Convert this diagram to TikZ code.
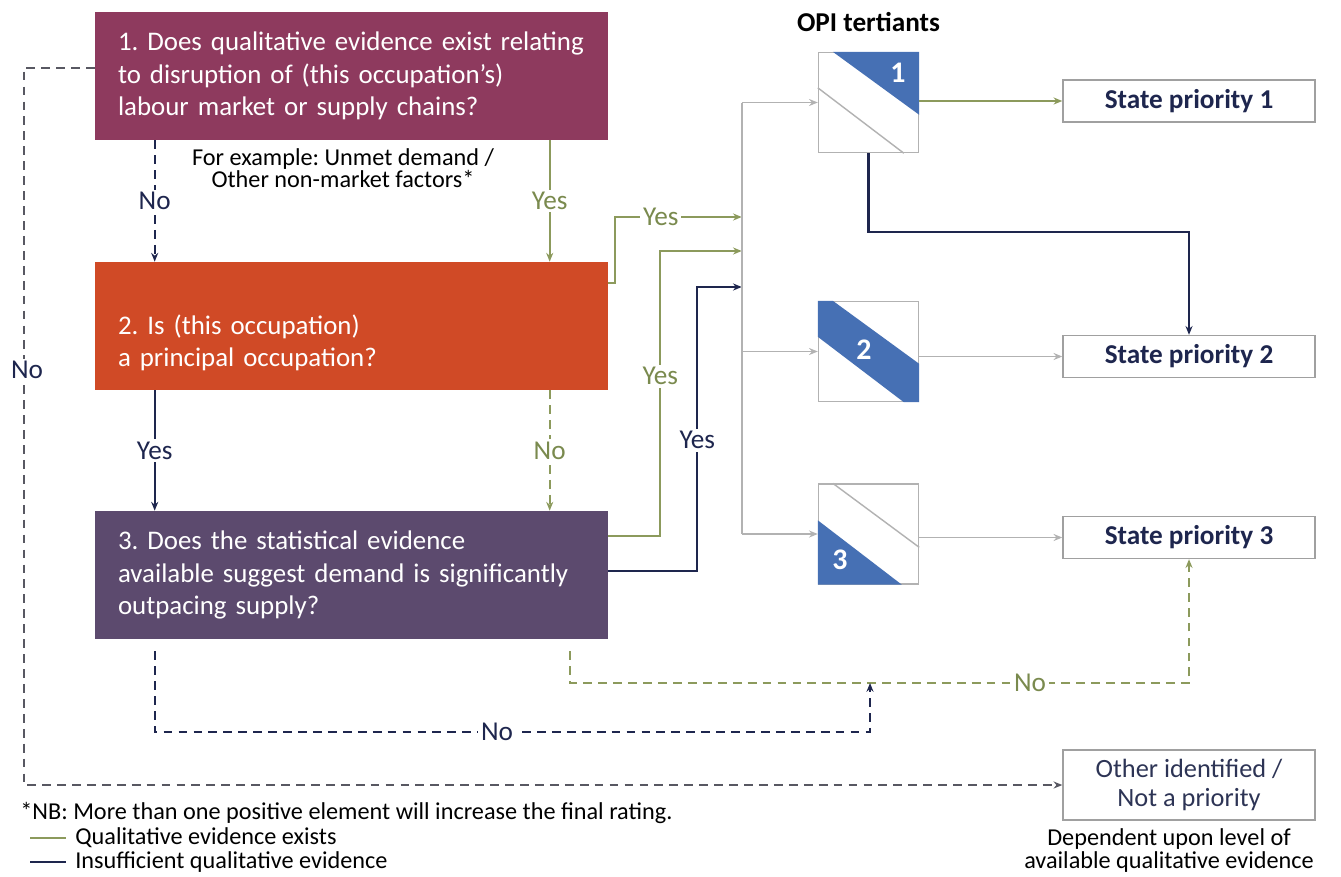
\documentclass[tikz,border=0pt]{standalone}
\usepackage{fontspec}
\setmainfont{Carlito}
\frenchspacing
\usetikzlibrary{arrows.meta,positioning,calc}
\definecolor{qone}{RGB}{142,58,94}
\definecolor{qtwo}{RGB}{208,74,38}
\definecolor{qthree}{RGB}{92,74,110}
\definecolor{olive}{RGB}{140,154,92}
\definecolor{olivetxt}{RGB}{122,138,78}
\definecolor{navy}{RGB}{30,38,78}
\definecolor{opiblue}{RGB}{70,112,180}
\definecolor{busgray}{RGB}{178,178,178}
\definecolor{boxgray}{RGB}{160,160,160}
\definecolor{leftgray}{RGB}{88,88,98}

\tikzset{
  qbox/.style={rectangle,minimum width=10.26cm,minimum height=2.56cm,inner xsep=0.46cm,
    text width=9.34cm,align=left,text=white,font=\fontsize{15.3}{18.5}\selectfont},
  opibox/.style={rectangle,draw=busgray,line width=0.8pt,fill=white,minimum size=2cm,inner sep=0pt},
  opinum/.style={text=white,font=\fontsize{17}{17}\selectfont\bfseries,inner sep=0pt},
  spbox/.style={rectangle,draw=boxgray,line width=0.8pt,minimum width=5.04cm,minimum height=0.84cm,
    text=navy,font=\fontsize{15.5}{18}\selectfont\bfseries},
  lbl/.style={fill=white,inner sep=1.5pt,font=\fontsize{15.5}{18}\selectfont},
  note/.style={font=\fontsize{13.8}{12.6}\selectfont,align=center,inner sep=0pt},
  tip/.style={-{Stealth[length=5pt,width=4pt]}},
  oliveline/.style={olive,line width=1.2pt},
  navyline/.style={navy,line width=1.2pt},
  busline/.style={busgray,line width=0.9pt},
  dashpat/.style={dash pattern=on 5pt off 3.5pt}
}

\begin{document}
\begin{tikzpicture}[x=0.02cm,y=-0.02cm]
  \useasboundingbox (0,0) rectangle (1341,876);

  % question boxes
  \node[qbox,fill=qone] (q1) at (351.5,76)
    {1. Does qualitative evidence exist relating\\to disruption of (this occupation’s)\\labour market or supply chains?};
  \node[qbox,fill=qtwo] (q2) at (351.5,326) {};
  \node[qbox,anchor=west,minimum height=0pt] (q2txt) at ($(q2.west)+(0,17)$)
    {2. Is (this occupation)\\a principal occupation?};
  \node[qbox,fill=qthree] (q3) at (351.5,575)
    {3. Does the statistical evidence\\available suggest demand is significantly\\outpacing supply?};
  \node[note] (example) at (343,168) {For example: Unmet demand /\\Other non-market factors*};

  % OPI tertiants
  \node[opibox] (t1) at (868.5,102.5) {};
  \node[opibox] (t2) at (868.5,351.5) {};
  \node[opibox] (t3) at (868.5,534) {};
  \fill[opiblue] ($(t1.north west)+(15,0)$) -- (t1.north east) -- ($(t1.north east)+(0,63)$) -- cycle;
  \draw[busgray,line width=0.8pt] ($(t1.north west)+(0,36)$) -- ($(t1.south west)+(86,0)$);
  \fill[opiblue] (t2.north west) -- ($(t2.north west)+(15,0)$) -- ($(t2.north east)+(0,63)$)
    -- (t2.south east) -- ($(t2.south west)+(86,0)$) -- ($(t2.north west)+(0,36)$) -- cycle;
  \fill[opiblue] ($(t3.north west)+(0,37)$) -- (t3.south west) -- ($(t3.south west)+(84,0)$) -- cycle;
  \draw[busgray,line width=0.8pt] ($(t3.north west)+(15,0)$) -- ($(t3.north east)+(0,64)$);
  \node[opinum] (n1) at ($(t1.north west)+(80,21)$) {1};
  \node[opinum] (n2) at ($(t2.north west)+(46,49)$) {2};
  \node[opinum] (n3) at ($(t3.north west)+(22,76)$) {3};
  \node[font=\fontsize{15.5}{18}\selectfont\bfseries,above=0.28cm of t1] (opi) {OPI tertiants};

  % outcomes
  \node[spbox] (sp1) at (1189,101) {State priority 1};
  \node[spbox] (sp2) at (1189,356.5) {State priority 2};
  \node[spbox] (sp3) at (1189,537.5) {State priority 3};
  \node[spbox,font=\fontsize{15}{16}\selectfont,text=navy!85!gray,minimum height=1.4cm,align=center]
    (other) at (1189,785) {Other identified /\\Not a priority};
  \node[note,below=0.16cm of other,xshift=-0.4cm] (dep) {Dependent upon level of\\available qualitative evidence};

  % question to question
  \draw[navyline,dashpat,tip] ($(q1.south west)+(60,0)$) -- node[lbl,text=navy]{No} ($(q2.north west)+(60,0)$);
  \draw[oliveline,tip] ($(q1.south west)+(455,0)$) -- node[lbl,text=olivetxt]{Yes} ($(q2.north west)+(455,0)$);
  \draw[navyline,tip] ($(q2.south west)+(60,0)$) -- node[lbl,text=navy]{Yes} ($(q3.north west)+(60,0)$);
  \draw[oliveline,dashpat,tip] ($(q2.south west)+(455,0)$) -- node[lbl,text=olivetxt]{No} ($(q3.north west)+(455,0)$);

  % into the tertiants
  \coordinate (bus1) at ($(t1.west)+(-76,0)$);
  \coordinate (bus3) at ($(t3.west)+(-76,0)$);
  \draw[oliveline,tip] ($(q2.north east)+(0,21)$) -- ++(7,0) |- node[pos=0.68,lbl,text=olivetxt]{Yes} (bus1 |- 0,217);
  \draw[oliveline,tip] ($(q3.north east)+(0,25)$) -- ++(52,0) |- node[pos=0.28,lbl,text=olivetxt]{Yes} (bus1 |- 0,251);
  \draw[navyline,tip] ($(q3.north east)+(0,60)$) -- ++(89,0) |- node[pos=0.23,lbl,text=navy]{Yes} (bus1 |- 0,287);
  \draw[busline] (bus1) -- (bus3);
  \draw[busline,tip] (bus1) -- (t1.west);
  \draw[busline,tip] (bus1 |- t2.west) -- (t2.west);
  \draw[busline,tip] (bus3) -- (t3.west);

  % tertiants to outcomes
  \draw[oliveline,tip] (t1.east |- sp1.west) -- (sp1.west);
  \draw[busline,tip] (t2.east |- sp2.west) -- (sp2.west);
  \draw[busline,tip] (t3.east |- sp3.west) -- (sp3.west);
  \draw[navyline,tip] (t1.south) -- ++(0,79) -| (sp2.north);

  % no branches
  \coordinate (oc) at (sp3.south |- 0,683);
  \coordinate (nc) at (870,732);
  \draw[oliveline,dashpat,tip] ($(q3.south east)+(-38,12)$) |- (oc) -- (sp3.south);
  \draw[navyline,dashpat,tip] ($(q3.south west)+(60,12)$) |- (nc) -- (nc |- oc);
  \draw[leftgray,line width=1.2pt,dashpat,tip] ($(q1.west)+(0,-8)$) -- ++(-71,0) |- (other.west);
  \node[lbl,text=olivetxt] (noO) at (1030,683) {No};
  \node[lbl,text=navy] (noN) at (497,732) {No};
  \node[lbl,text=navy] (noL) at (27,370) {No};

  % footnote and legend
  \node[note,anchor=west] (nb) at (20,813) {*NB: More than one positive element will increase the final rating.};
  \node[note,anchor=west] (leg1) at (75,838) {Qualitative evidence exists};
  \node[note,anchor=west] (leg2) at (75,862) {Insufficient qualitative evidence};
  \draw[oliveline] ($(leg1.west)+(-45,0)$) -- ++(36,0);
  \draw[navyline] ($(leg2.west)+(-45,0)$) -- ++(36,0);
\end{tikzpicture}
\end{document}
